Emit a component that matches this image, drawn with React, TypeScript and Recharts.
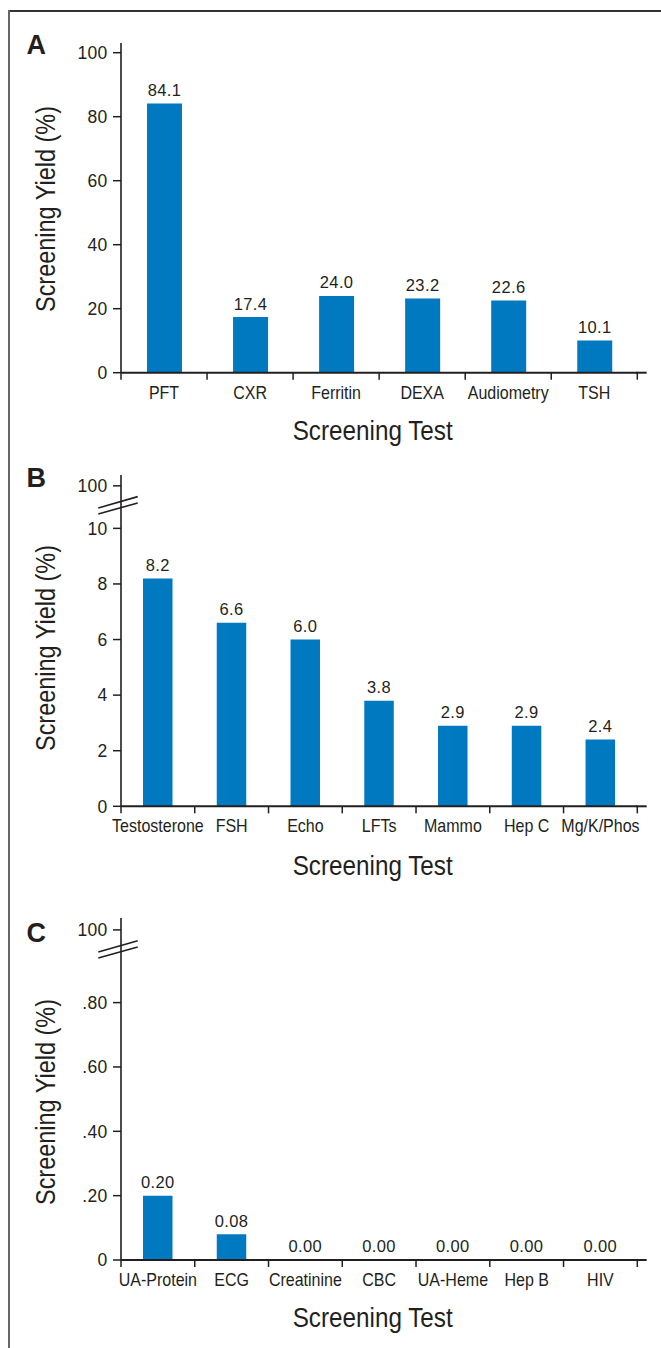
import React from 'react';
import { BarChart, Bar, XAxis, YAxis, LabelList } from 'recharts';

// ---------- data ----------
const A_CATEGORIES = ['PFT', 'CXR', 'Ferritin', 'DEXA', 'Audiometry', 'TSH'];
const A_VALUES = [84.1, 17.4, 24.0, 23.2, 22.6, 10.1];
const A_TICKS = [0, 20, 40, 60, 80, 100];
const A_TICK_LABELS = ['0', '20', '40', '60', '80', '100'];

const B_CATEGORIES = ['Testosterone', 'FSH', 'Echo', 'LFTs', 'Mammo', 'Hep C', 'Mg/K/Phos'];
const B_VALUES = [8.2, 6.6, 6.0, 3.8, 2.9, 2.9, 2.4];
const B_TICKS = [0, 2, 4, 6, 8, 10];
const B_TICK_LABELS = ['0', '2', '4', '6', '8', '10'];

const C_CATEGORIES = ['UA-Protein', 'ECG', 'Creatinine', 'CBC', 'UA-Heme', 'Hep B', 'HIV'];
const C_VALUES = [0.2, 0.08, 0.0, 0.0, 0.0, 0.0, 0.0];
const C_TICKS = [0, 0.2, 0.4, 0.6, 0.8];
const C_TICK_LABELS = ['0', '.20', '.40', '.60', '.80'];

const BREAK_LABEL = '100';
const X_TITLE = 'Screening Test';
const Y_TITLE = 'Screening Yield (%)';

// ---------- styling ----------
const INK = '#231f20';
const BAR = '#0079c1';
const REG = "'Liberation Sans', Arial, Helvetica, sans-serif";
const CONDENSE = 0.89;

const W = 661;
const Y_AXIS_W = 121;
const RIGHT = 23.7;
const PLOT_W = W - Y_AXIS_W - RIGHT;

type Panel = {
  letter: string;
  categories: string[];
  values: number[];
  ticks: number[];
  tickLabels: string[];
  breakAt?: number; // axis position standing for the "100" label after the break
  domainTop: number;
  decimals: number;
  top: number;
  height: number;
  marginTop: number;
  xAxisHeight: number;
  barSize: number;
  letterY: number;
  yTitleCenter: number;
  xTitleBaseline: number;
};

const PANELS: Panel[] = [
  {
    letter: 'A', categories: A_CATEGORIES, values: A_VALUES, ticks: A_TICKS, tickLabels: A_TICK_LABELS,
    domainTop: 103.03, decimals: 1, top: 0, height: 450, marginTop: 43, xAxisHeight: 77.3, barSize: 35,
    letterY: 54, yTitleCenter: 209, xTitleBaseline: 440,
  },
  {
    letter: 'B', categories: B_CATEGORIES, values: B_VALUES, ticks: B_TICKS, tickLabels: B_TICK_LABELS,
    breakAt: 11.53, domainTop: 11.92, decimals: 1, top: 450, height: 450, marginTop: 25, xAxisHeight: 93.7, barSize: 29.5,
    letterY: 487, yTitleCenter: 648, xTitleBaseline: 875,
  },
  {
    letter: 'C', categories: C_CATEGORIES, values: C_VALUES, ticks: C_TICKS, tickLabels: C_TICK_LABELS,
    breakAt: 1.026, domainTop: 1.063, decimals: 2, top: 900, height: 448, marginTop: 18, xAxisHeight: 88, barSize: 29.5,
    letterY: 941.5, yTitleCenter: 1102, xTitleBaseline: 1326.7,
  },
];

function makeYTick(p: Panel) {
  return (props: any) => {
    const { x, y, payload } = props;
    const v = payload.value as number;
    const isBreak = p.breakAt !== undefined && Math.abs(v - p.breakAt) < 1e-9;
    const idx = p.ticks.findIndex((t) => Math.abs(t - v) < 1e-9);
    const label = isBreak ? BREAK_LABEL : idx >= 0 ? p.tickLabels[idx] : String(v);
    const cy = y + 19.5;
    return (
      <g>
        <line x1={x - 8} x2={x} y1={y} y2={y} stroke={INK} strokeWidth={1.5} />
        <text x={x - 13.5} y={y + 6.2} textAnchor="end" fontFamily={REG} fontSize={17.5} letterSpacing={0.3} fill={INK}>
          {label}
        </text>
        {isBreak && (
          <g stroke={INK} strokeWidth={1.6}>
            <line x1={x - 22.7} y1={cy + 2.6} x2={x + 16.7} y2={cy - 8.7} />
            <line x1={x - 22.7} y1={cy + 8.6} x2={x + 16.7} y2={cy - 2.4} />
          </g>
        )}
      </g>
    );
  };
}

function makeXTick(p: Panel) {
  const n = p.categories.length;
  const band = PLOT_W / n;
  return (props: any) => {
    const { x, y, payload, index } = props;
    const left = x - band / 2;
    const right = x + band / 2;
    return (
      <g>
        <line x1={left} x2={left} y1={y} y2={y + 7} stroke={INK} strokeWidth={1.5} />
        {index === n - 1 && (
          <g>
            <line x1={right} x2={right} y1={y} y2={y + 7} stroke={INK} strokeWidth={1.5} />
            <line x1={right - 1} x2={right + 9.4} y1={y} y2={y} stroke={INK} strokeWidth={2} />
          </g>
        )}
        <text
          transform={`translate(${x},${y + 26}) scale(${CONDENSE},1)`}
          textAnchor="middle"
          fontFamily={REG}
          fontSize={18}
          fill={INK}
        >
          {payload.value}
        </text>
      </g>
    );
  };
}

function makeValueLabel(decimals: number) {
  return (props: any) => {
    const { x, y, width, value } = props;
    return (
      <text
        x={Number(x) + Number(width) / 2}
        y={Number(y) - 7.5}
        textAnchor="middle"
        fontFamily={REG}
        fontSize={16.5}
        letterSpacing={0.4}
        fill={INK}
      >
        {Number(value).toFixed(decimals)}
      </text>
    );
  };
}

function PanelChart({ p }: { p: Panel }) {
  const data = p.categories.map((c, i) => ({ name: c, value: p.values[i] }));
  const ticks = p.breakAt !== undefined ? [...p.ticks, p.breakAt] : p.ticks;
  return (
    <div style={{ position: 'absolute', left: 0, top: p.top, width: W, height: p.height }}>
      <BarChart
        width={W}
        height={p.height}
        data={data}
        margin={{ top: p.marginTop, right: RIGHT, bottom: 0, left: 0 }}
      >
        <XAxis
          dataKey="name"
          type="category"
          height={p.xAxisHeight}
          interval={0}
          tickLine={false}
          tickSize={0}
          tickMargin={0}
          axisLine={{ stroke: INK, strokeWidth: 2 }}
          tick={makeXTick(p)}
        />
        <YAxis
          type="number"
          width={Y_AXIS_W}
          domain={[0, p.domainTop]}
          allowDataOverflow
          ticks={ticks}
          interval={0}
          tickLine={false}
          tickSize={0}
          tickMargin={0}
          axisLine={{ stroke: INK, strokeWidth: 1.6 }}
          tick={makeYTick(p)}
        />
        <Bar dataKey="value" fill={BAR} barSize={p.barSize} minPointSize={0.01} isAnimationActive={false}>
          <LabelList dataKey="value" content={makeValueLabel(p.decimals)} />
        </Bar>
      </BarChart>
    </div>
  );
}

export default function App() {
  const xTitleCenter = 372.7;
  return (
    <div style={{ position: 'absolute', left: 0, top: 0, width: W, height: 1348, background: '#fff', overflow: 'hidden' }}>
      {PANELS.map((p) => (
        <PanelChart key={p.letter} p={p} />
      ))}
      <svg width={W} height={1348} style={{ position: 'absolute', left: 0, top: 0, pointerEvents: 'none' }}>
        <line x1={9} x2={W} y1={11} y2={11} stroke="#333" strokeWidth={2.2} />
        <line x1={9} x2={9} y1={10} y2={1348} stroke="#666" strokeWidth={2} />
        {PANELS.map((p) => (
          <g key={p.letter}>
            <text x={26.5} y={p.letterY} fontFamily={REG} fontWeight="bold" fontSize={27} fill={INK}>
              {p.letter}
            </text>
            <text
              x={xTitleCenter}
              y={p.xTitleBaseline}
              textAnchor="middle"
              fontFamily={REG}
              fontSize={27}
              textLength={160}
              lengthAdjust="spacingAndGlyphs"
              fill={INK}
            >
              {X_TITLE}
            </text>
            <text
              transform={`translate(54.5, ${p.yTitleCenter}) rotate(-90)`}
              x={0}
              y={0}
              textAnchor="middle"
              fontFamily={REG}
              fontSize={27}
              textLength={206}
              lengthAdjust="spacingAndGlyphs"
              fill={INK}
            >
              {Y_TITLE}
            </text>
          </g>
        ))}
      </svg>
    </div>
  );
}
